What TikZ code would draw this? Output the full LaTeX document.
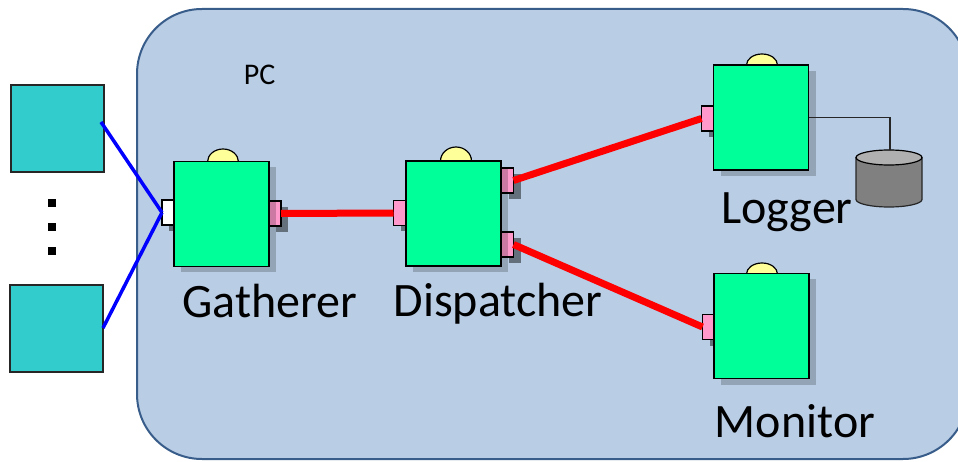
\documentclass[tikz,border=0pt]{standalone}
\usepackage{fontspec}
\setmainfont{Carlito}
\usetikzlibrary{shadows}
\begin{document}
\begin{tikzpicture}[x=1pt,y=-1pt]
\tikzstyle{every node}=[inner sep=0pt,outer sep=0pt]
\tikzstyle{label}=[font=\fontsize{48}{48}\selectfont]
\tikzstyle{panel}=[draw=panelline,line width=2pt,fill=panelblue,rounded corners=65pt]
\tikzstyle{client}=[draw=black!85,line width=1.2pt,fill=clientteal,minimum width=93pt,minimum height=87pt]
\tikzstyle{box}=[draw=black,line width=1.6pt,fill=boxgreen,minimum width=95pt,minimum height=105pt,
	drop shadow={shadow xshift=7pt,shadow yshift=-6pt,fill=black,opacity=.2}]
\tikzstyle{port}=[draw=black,line width=1.4pt,fill=portpink,minimum width=12pt,minimum height=25pt,
	drop shadow={shadow xshift=7pt,shadow yshift=-6pt,fill=black,opacity=.45}]
\tikzstyle{dome}=[draw=black,line width=1.2pt,fill=domeyellow]
\tikzstyle{dot}=[fill=black,minimum size=8pt]
\tikzstyle{redlink}=[draw=red,line width=7pt]
\tikzstyle{bluelink}=[draw=blue,line width=3.5pt]
\definecolor{panelblue}{HTML}{B9CDE5}
\definecolor{panelline}{HTML}{385D8A}
\definecolor{clientteal}{HTML}{33CCCC}
\definecolor{boxgreen}{HTML}{00FF99}
\definecolor{portpink}{HTML}{FF99CC}
\definecolor{domeyellow}{HTML}{FFFF99}
\useasboundingbox (0,0) rectangle (958,462);
	\draw[panel] (137,9) rectangle (968,459);
	\node[font=\fontsize{30}{30}\selectfont] (pc) at (259.5,75) {PC};
	\node[client] (clienta) at (57.5,128.5) {};
	\node[client] (clientb) at (56.5,328.5) {};
	\node[dot] (dota) at (52,203) {};
	\node[dot] (dotb) at (52,227) {};
	\node[dot] (dotc) at (52,251) {};
	\draw[dome] (223,162) ellipse (15.5 and 13);
	\draw[dome] (456,161) ellipse (15.5 and 14);
	\draw[dome] (762,65) ellipse (15.5 and 11);
	\draw[dome] (762,274) ellipse (15.5 and 11);
	\node[port,fill=white] (gatherin) at (168,212.5) {};
	\node[port] (gatherout) at (275,213.5) {};
	\node[port] (dispin) at (399.5,213) {};
	\node[port] (dispouta) at (507.5,180.5) {};
	\node[port] (dispoutb) at (507.5,244.5) {};
	\node[port] (login) at (707.5,118.5) {};
	\node[port] (monin) at (708.5,327) {};
	\node[box] (gatherer) at (221.5,214) {};
	\node[box] (dispatcher) at (453.5,213.5) {};
	\node[box] (logger) at (761,117.5) {};
	\node[box] (monitor) at (761.5,326) {};
	\node[label] (gatherlabel) at (270,301) {Gatherer};
	\node[label] (displabel) at (498,304) {Dispatcher};
	\node[label] (loglabel) at (787,212) {Logger};
	\node[label] (monlabel) at (795,421) {Monitor};
	\coordinate (clientaend) at (101,122);
	\coordinate (clientbend) at (103,328);
	\draw[bluelink] (clientaend) -- (gatherin.west);
	\draw[bluelink] (clientbend) -- (gatherin.west);
	\draw[redlink] (gatherout.east) -- (dispin.west);
	\draw[redlink] (dispouta.east) -- (login.west);
	\draw[redlink] (dispoutb.east) -- (monin.west);
	\draw[line width=1.2pt,draw=black!85,fill=black!50] (856,157.5) -- (856,199.5) arc (180:0:33 and 7.5) -- (922,157.5);
	\draw[line width=1.2pt,draw=black,fill=black!31] (889,157.5) ellipse (33 and 7.5);
	\coordinate (diskTop) at (890,150);
	\draw[line width=1.2pt,draw=black!85] (logger.east) -| (diskTop);
\end{tikzpicture}
\end{document}
